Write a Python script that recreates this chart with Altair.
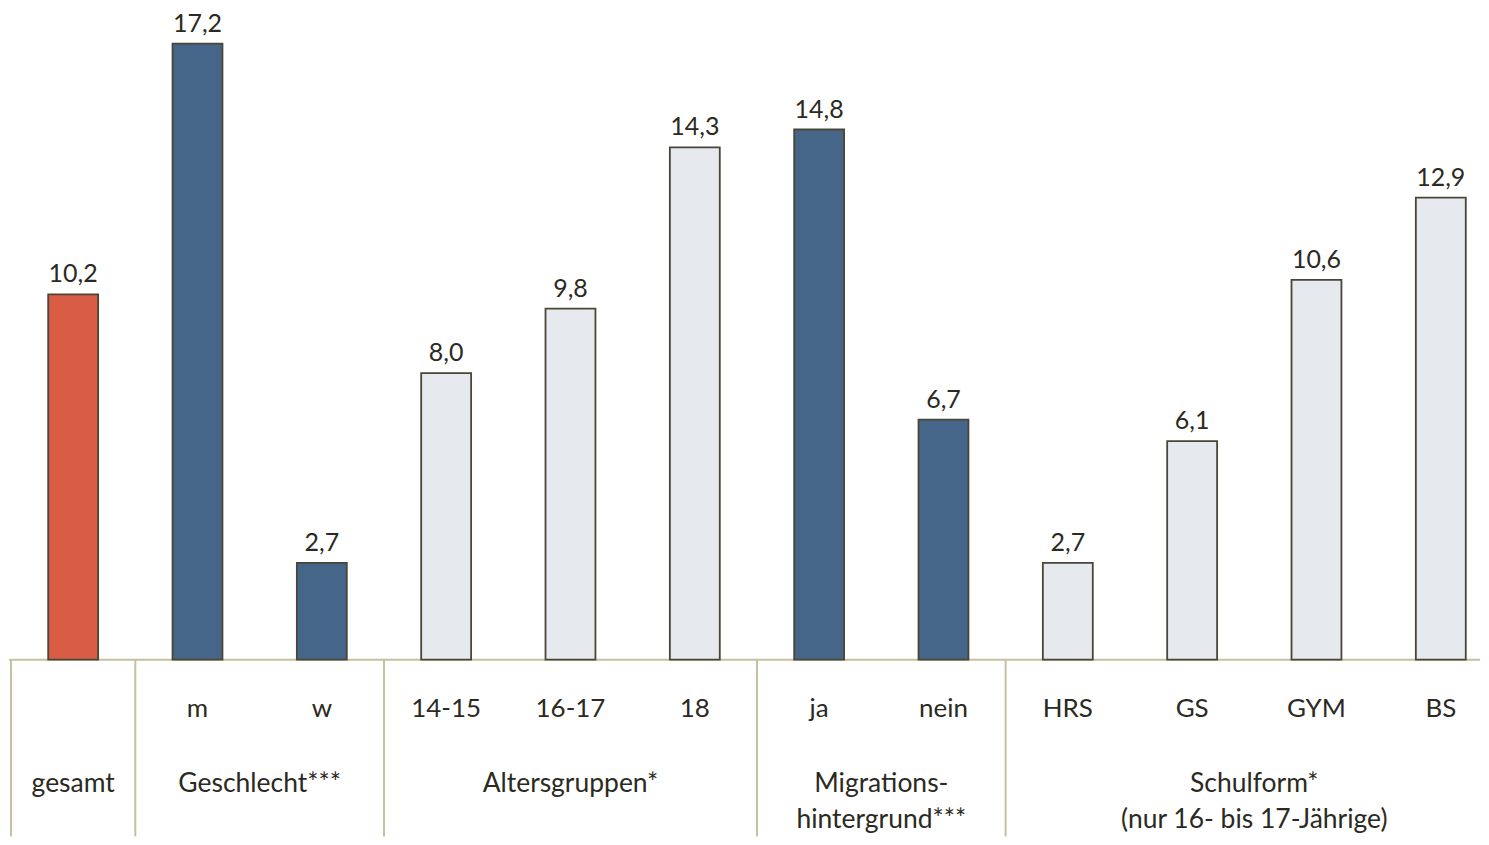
import altair as alt
import pandas as pd

categories = ["gesamt", "m", "w", "14-15", "16-17", "18", "ja", "nein", "HRS", "GS", "GYM", "BS"]
values = [10.2, 17.2, 2.7, 8.0, 9.8, 14.3, 14.8, 6.7, 2.7, 6.1, 10.6, 12.9]
value_labels = ["10,2", "17,2", "2,7", "8,0", "9,8", "14,3", "14,8", "6,7", "2,7", "6,1", "10,6", "12,9"]
shade = ["gesamt", "dunkel", "dunkel", "hell", "hell", "hell", "dunkel", "dunkel", "hell", "hell", "hell", "hell"]

group_first = [0, 1, 3, 6, 8]
group_last = [0, 2, 5, 7, 11]
group_lines = [["gesamt"], ["Geschlecht***"], ["Altersgruppen*"],
               ["Migrations-", "hintergrund***"],
               ["Schulform*", "(nur 16- bis 17-Jährige)"]]

FONT = "Lato"
TXT = "#2b2a22"
LINE = "#c8bf9f"

px_per_unit = 35.87
sub_y = -49 / px_per_unit
grp_y = -125 / px_per_unit
line_step = 36 / px_per_unit

PAD_TOP = 2
W, H = 1473, 829 - PAD_TOP
d0 = -0.5 - 2 / 124.5
d1 = d0 + W / 124.5
ymax = (660 - 8 - PAD_TOP) / px_per_unit
ymin = ymax - H / px_per_unit

bars = pd.DataFrame({
    "idx": list(range(len(categories))),
    "cat": categories,
    "value": values,
    "zero": [0.0] * len(categories),
    "label": value_labels,
    "shade": shade,
    "sub": ["" if i == 0 else c for i, c in enumerate(categories)],
    "suby": [sub_y] * len(categories),
})

grp_rows = []
for f, l, lines in zip(group_first, group_last, group_lines):
    for k, t in enumerate(lines):
        grp_rows.append({"x": (f + l) / 2, "y": grp_y - k * line_step, "t": t})
grp = pd.DataFrame(grp_rows)

seps = pd.DataFrame({"x": [f - 0.5 for f in group_first],
                     "y0": [0.0] * len(group_first),
                     "y1": [ymin] * len(group_first)})
hl = pd.DataFrame({"x0": [d0], "x1": [d1], "y": [0.0]})

xs = alt.Scale(domain=[d0, d1], nice=False, zero=False, padding=0)
ys = alt.Scale(domain=[ymin, ymax], nice=False, zero=False, padding=0)

base = alt.Chart(bars)

bar = base.mark_bar(size=50, stroke="#4a4636", strokeWidth=1.8).encode(
    x=alt.X("idx:Q", scale=xs, axis=None),
    y=alt.Y("value:Q", scale=ys, axis=None),
    y2="zero:Q",
    color=alt.Color("shade:N", scale=alt.Scale(domain=["gesamt", "dunkel", "hell"],
                                               range=["#d95c45", "#466689", "#e6e9ed"]), legend=None),
)

vlabels = base.mark_text(font=FONT, fontSize=25, color=TXT, baseline="bottom", dy=-7).encode(
    x=alt.X("idx:Q", scale=xs, axis=None), y=alt.Y("value:Q", scale=ys, axis=None), text="label:N"
)

sublabels = base.mark_text(font=FONT, fontSize=26, color=TXT, baseline="middle").encode(
    x=alt.X("idx:Q", scale=xs, axis=None), y=alt.Y("suby:Q", scale=ys, axis=None), text="sub:N"
)

glabels = alt.Chart(grp).mark_text(font=FONT, fontSize=26.5, color=TXT, baseline="middle").encode(
    x=alt.X("x:Q", scale=xs, axis=None), y=alt.Y("y:Q", scale=ys, axis=None), text="t:N"
)

hline = alt.Chart(hl).mark_rule(color=LINE, strokeWidth=2).encode(
    y=alt.Y("y:Q", scale=ys, axis=None), x=alt.X("x0:Q", scale=xs, axis=None), x2="x1:Q"
)

vlines = alt.Chart(seps).mark_rule(color=LINE, strokeWidth=2).encode(
    x=alt.X("x:Q", scale=xs, axis=None), y=alt.Y("y0:Q", scale=ys, axis=None), y2="y1:Q"
)

chart = alt.layer(hline, vlines, bar, vlabels, sublabels, glabels).properties(
    width=W, height=H, background="white",
    padding={"top": PAD_TOP, "left": 0, "right": 0, "bottom": 0}
).configure_view(strokeWidth=0)

chart.save("out.html", embed_options={"renderer": "svg", "actions": False})
